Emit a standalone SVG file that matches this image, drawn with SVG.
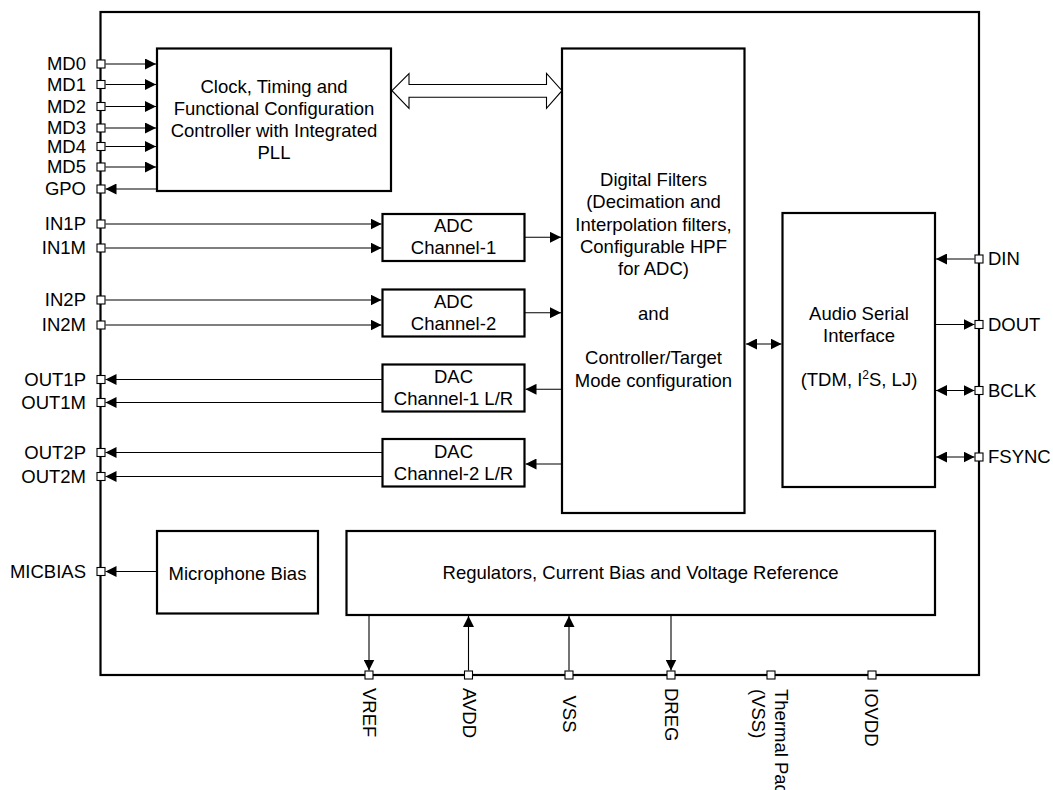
<svg xmlns="http://www.w3.org/2000/svg" width="1053" height="790" viewBox="0 0 1053 790">
<style>
text{font-family:"Liberation Sans",Arial,sans-serif;font-size:18.5px;fill:#000}
.c{text-anchor:middle}
.e{text-anchor:end}
.blk{fill:#fff;stroke:#000;stroke-width:2.2}
.ln{fill:none;stroke:#000;stroke-width:1.1}
.pin{fill:#fff;stroke:#000;stroke-width:1.1}
</style>
<defs>
<marker id="ah" markerUnits="userSpaceOnUse" markerWidth="11" markerHeight="11" refX="11" refY="5.5" orient="auto-start-reverse">
<path d="M0,0 L11,5.5 L0,11 z" fill="#000"/>
</marker>
</defs>
<rect id="chip" x="100.5" y="12" width="878.5" height="663" fill="none" stroke="#000" stroke-width="2.2"/>

<g id="clock"><rect class="blk" x="157" y="48.5" width="234" height="142.5"/>
<text class="c" x="274" y="93">Clock, Timing and</text>
<text class="c" x="274" y="115">Functional Configuration</text>
<text class="c" x="274" y="137">Controller with Integrated</text>
<text class="c" x="274" y="159">PLL</text></g>

<g id="dfilters"><rect class="blk" x="562" y="48.5" width="182.5" height="464.5"/>
<text class="c" x="653.5" y="186">Digital Filters</text>
<text class="c" x="653.5" y="208.3">(Decimation and</text>
<text class="c" x="653.5" y="230.6">Interpolation filters,</text>
<text class="c" x="653.5" y="252.9">Configurable HPF</text>
<text class="c" x="653.5" y="275.2">for ADC)</text>
<text class="c" x="653.5" y="319.8">and</text>
<text class="c" x="653.5" y="364.4">Controller/Target</text>
<text class="c" x="653.5" y="386.7">Mode configuration</text></g>

<g id="asi"><rect class="blk" x="782.5" y="213" width="152.5" height="274"/>
<text class="c" x="859" y="320">Audio Serial</text>
<text class="c" x="859" y="342">Interface</text>
<text class="c" x="859" y="386">(TDM, I<tspan font-size="12" dy="-7">2</tspan><tspan dy="7">S, LJ)</tspan></text></g>

<g id="adc1"><rect class="blk" x="382.5" y="214" width="142" height="47"/>
<text class="c" x="453.5" y="232.3">ADC</text>
<text class="c" x="453.5" y="253.5">Channel-1</text></g>
<g id="adc2"><rect class="blk" x="382.5" y="289.5" width="142" height="47"/>
<text class="c" x="453.5" y="308.3">ADC</text>
<text class="c" x="453.5" y="329.5">Channel-2</text></g>
<g id="dac1"><rect class="blk" x="382.5" y="364.5" width="142" height="47"/>
<text class="c" x="453.5" y="383.3">DAC</text>
<text class="c" x="453.5" y="405">Channel-1 L/R</text></g>
<g id="dac2"><rect class="blk" x="382.5" y="439" width="142" height="47.5"/>
<text class="c" x="453.5" y="458.3">DAC</text>
<text class="c" x="453.5" y="480">Channel-2 L/R</text></g>

<g id="micbias"><rect class="blk" x="157" y="531" width="161" height="82.5"/>
<text class="c" x="237.5" y="579.5">Microphone Bias</text></g>
<g id="regulators"><rect class="blk" x="346.5" y="531" width="588.5" height="84"/>
<text class="c" x="640.5" y="579.3">Regulators, Current Bias and Voltage Reference</text></g>

<g id="connectors">
<polygon points="392,90.7 409,73.5 409,84.5 546.5,84.5 546.5,73.5 562,90.7 546.5,108.3 546.5,97.3 409,97.3 409,108.3" fill="#fff" stroke="#000" stroke-width="1.1"/>
<line class="ln" x1="105.5" y1="64" x2="156" y2="64" marker-end="url(#ah)"/>
<line class="ln" x1="105.5" y1="84.5" x2="156" y2="84.5" marker-end="url(#ah)"/>
<line class="ln" x1="105.5" y1="106.5" x2="156" y2="106.5" marker-end="url(#ah)"/>
<line class="ln" x1="105.5" y1="128" x2="156" y2="128" marker-end="url(#ah)"/>
<line class="ln" x1="105.5" y1="146.5" x2="156" y2="146.5" marker-end="url(#ah)"/>
<line class="ln" x1="105.5" y1="167" x2="156" y2="167" marker-end="url(#ah)"/>
<line class="ln" x1="157" y1="189" x2="105.5" y2="189" marker-end="url(#ah)"/>
<line class="ln" x1="105.5" y1="224" x2="381.5" y2="224" marker-end="url(#ah)"/>
<line class="ln" x1="105.5" y1="248" x2="381.5" y2="248" marker-end="url(#ah)"/>
<line class="ln" x1="105.5" y1="300" x2="381.5" y2="300" marker-end="url(#ah)"/>
<line class="ln" x1="105.5" y1="325" x2="381.5" y2="325" marker-end="url(#ah)"/>
<line class="ln" x1="382.5" y1="379.5" x2="105.5" y2="379.5" marker-end="url(#ah)"/>
<line class="ln" x1="382.5" y1="402.5" x2="105.5" y2="402.5" marker-end="url(#ah)"/>
<line class="ln" x1="382.5" y1="452.5" x2="105.5" y2="452.5" marker-end="url(#ah)"/>
<line class="ln" x1="382.5" y1="476.5" x2="105.5" y2="476.5" marker-end="url(#ah)"/>
<line class="ln" x1="157" y1="571.5" x2="105.5" y2="571.5" marker-end="url(#ah)"/>
<line class="ln" x1="524.5" y1="237.3" x2="561" y2="237.3" marker-end="url(#ah)"/>
<line class="ln" x1="524.5" y1="312.7" x2="561" y2="312.7" marker-end="url(#ah)"/>
<line class="ln" x1="562" y1="389.3" x2="525.5" y2="389.3" marker-end="url(#ah)"/>
<line class="ln" x1="562" y1="464" x2="525.5" y2="464" marker-end="url(#ah)"/>
<line class="ln" x1="746" y1="344" x2="781.5" y2="344" marker-start="url(#ah)" marker-end="url(#ah)"/>
<line class="ln" x1="974.5" y1="259" x2="936" y2="259" marker-end="url(#ah)"/>
<line class="ln" x1="935" y1="324.5" x2="974.5" y2="324.5" marker-end="url(#ah)"/>
<line class="ln" x1="936" y1="390.5" x2="974.5" y2="390.5" marker-start="url(#ah)" marker-end="url(#ah)"/>
<line class="ln" x1="936" y1="457" x2="974.5" y2="457" marker-start="url(#ah)" marker-end="url(#ah)"/>
<line class="ln" x1="369" y1="615" x2="369" y2="670.5" marker-end="url(#ah)"/>
<line class="ln" x1="468.5" y1="670.5" x2="468.5" y2="616" marker-end="url(#ah)"/>
<line class="ln" x1="569" y1="670.5" x2="569" y2="616" marker-end="url(#ah)"/>
<line class="ln" x1="671" y1="615" x2="671" y2="670.5" marker-end="url(#ah)"/>
</g>

<g id="pins">
<rect class="pin" x="97" y="60" width="8" height="8"/>
<rect class="pin" x="97" y="80.5" width="8" height="8"/>
<rect class="pin" x="97" y="102.5" width="8" height="8"/>
<rect class="pin" x="97" y="124" width="8" height="8"/>
<rect class="pin" x="97" y="142.5" width="8" height="8"/>
<rect class="pin" x="97" y="163" width="8" height="8"/>
<rect class="pin" x="97" y="185" width="8" height="8"/>
<rect class="pin" x="97" y="220" width="8" height="8"/>
<rect class="pin" x="97" y="244" width="8" height="8"/>
<rect class="pin" x="97" y="296" width="8" height="8"/>
<rect class="pin" x="97" y="321" width="8" height="8"/>
<rect class="pin" x="97" y="375.5" width="8" height="8"/>
<rect class="pin" x="97" y="398.5" width="8" height="8"/>
<rect class="pin" x="97" y="448.5" width="8" height="8"/>
<rect class="pin" x="97" y="472.5" width="8" height="8"/>
<rect class="pin" x="97" y="567.5" width="8" height="8"/>
<rect class="pin" x="975" y="255" width="8" height="8"/>
<rect class="pin" x="975" y="320.5" width="8" height="8"/>
<rect class="pin" x="975" y="386.5" width="8" height="8"/>
<rect class="pin" x="975" y="453" width="8" height="8"/>
<rect class="pin" x="365" y="671" width="8" height="8"/>
<rect class="pin" x="464.5" y="671" width="8" height="8"/>
<rect class="pin" x="565" y="671" width="8" height="8"/>
<rect class="pin" x="667" y="671" width="8" height="8"/>
<rect class="pin" x="767" y="671" width="8" height="8"/>
<rect class="pin" x="868" y="671" width="8" height="8"/>
</g>

<g id="labels">
<text class="e" x="86" y="70">MD0</text>
<text class="e" x="86" y="90.5">MD1</text>
<text class="e" x="86" y="112.5">MD2</text>
<text class="e" x="86" y="134">MD3</text>
<text class="e" x="86" y="152.5">MD4</text>
<text class="e" x="86" y="173">MD5</text>
<text class="e" x="86" y="195">GPO</text>
<text class="e" x="86" y="230">IN1P</text>
<text class="e" x="86" y="254">IN1M</text>
<text class="e" x="86" y="306">IN2P</text>
<text class="e" x="86" y="331">IN2M</text>
<text class="e" x="86" y="385.5">OUT1P</text>
<text class="e" x="86" y="408.5">OUT1M</text>
<text class="e" x="86" y="458.5">OUT2P</text>
<text class="e" x="86" y="482.5">OUT2M</text>
<text class="e" x="86" y="577.5">MICBIAS</text>
<text x="988" y="265">DIN</text>
<text x="988" y="330.5">DOUT</text>
<text x="988" y="396.5">BCLK</text>
<text x="988" y="463">FSYNC</text>
<text transform="translate(362.5,688) rotate(90)">VREF</text>
<text transform="translate(463,688) rotate(90)">AVDD</text>
<text transform="translate(562.5,695.5) rotate(90)">VSS</text>
<text transform="translate(664.5,688) rotate(90)">DREG</text>
<text transform="translate(775,689) rotate(90)"><tspan x="0" y="0">Thermal Pad</tspan><tspan x="0" y="23">(VSS)</tspan></text>
<text transform="translate(865,688) rotate(90)">IOVDD</text>
</g>
</svg>
